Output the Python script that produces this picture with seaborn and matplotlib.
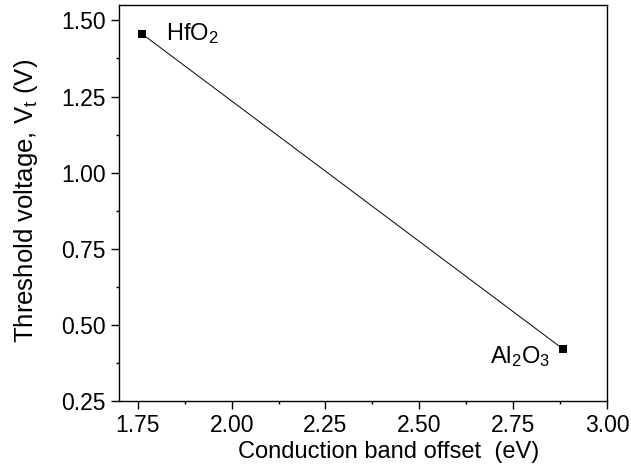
import matplotlib
matplotlib.use("Agg")
import matplotlib.pyplot as plt
import seaborn as sns
import pandas as pd
from matplotlib.ticker import MultipleLocator

materials = ["HfO$_2$", "Al$_2$O$_3$"]
cbo = [1.76, 2.884]
vt = [1.457, 0.42]
xticks = [1.75, 2.0, 2.25, 2.5, 2.75, 3.0]
yticks = [0.25, 0.5, 0.75, 1.0, 1.25, 1.5]

sns.set_theme(style="ticks")
plt.rcParams['font.family'] = ['Liberation Sans', 'DejaVu Sans']
plt.rcParams['mathtext.default'] = 'regular'
plt.rcParams['text.color'] = 'black'
plt.rcParams['axes.labelcolor'] = 'black'

df = pd.DataFrame({"cbo": cbo, "vt": vt, "mat": materials})

fig = plt.figure(figsize=(6.31, 4.73), dpi=100)
ax = fig.add_axes([0.1886, 0.152, 0.7734, 0.837])
sns.lineplot(data=df, x="cbo", y="vt", ax=ax, color="black", linewidth=0.7,
             marker="s", markersize=6, markeredgewidth=0, sort=False)

ax.set_xlim(1.7, 3.0)
ax.set_ylim(0.25, 1.55)
ax.set_xticks(xticks)
ax.set_xticklabels([f"{v:.2f}" for v in xticks])
ax.set_yticks(yticks)
ax.set_yticklabels([f"{v:.2f}" for v in yticks])
ax.xaxis.set_minor_locator(MultipleLocator(0.125))
ax.yaxis.set_minor_locator(MultipleLocator(0.125))
ax.tick_params(which="major", direction="out", length=5.5, width=1, labelsize=16.5,
               colors="black", pad=4)
ax.tick_params(which="minor", direction="out", length=2.2, width=1, colors="black")
for s in ax.spines.values():
    s.set_linewidth(1)
    s.set_color("black")

ax.set_xlabel("Conduction band offset  (eV)", fontsize=17)
ax.xaxis.set_label_coords(0.553, -0.102)
ax.set_ylabel("Threshold voltage, V$_t$ (V)", fontsize=18.5)
ax.yaxis.set_label_coords(-0.162, 0.505)

ax.text(cbo[0] + 0.065, vt[0], materials[0], fontsize=17, ha="left", va="center")
ax.text(cbo[1] - 0.035, vt[1] - 0.025, materials[1], fontsize=17, ha="right", va="center")

fig.savefig("out.png", dpi=100)
